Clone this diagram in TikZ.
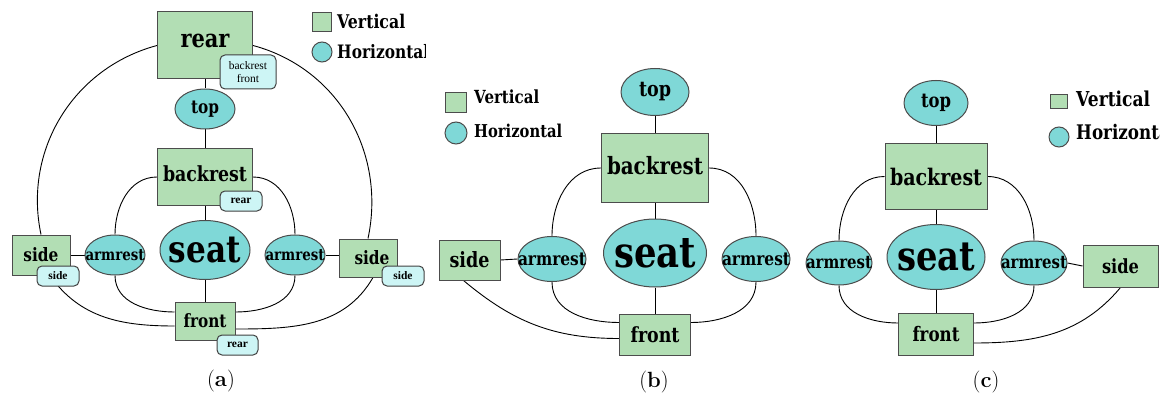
\documentclass[tikz,border=0pt]{standalone}
\usepackage{fontspec}
\usepackage{graphicx}
\usepackage{tikz}
\usetikzlibrary{positioning, shapes.geometric, backgrounds}
\newfontfamily\partfont{DejaVu Serif}
\newfontfamily\tagfont{Liberation Serif}
\definecolor{vgreen}{RGB}{178,222,180}
\definecolor{hcyan}{RGB}{127,216,215}
\definecolor{tagcyan}{RGB}{205,245,245}
\newcommand{\fs}[1]{\fontsize{#1}{#1}\selectfont}
\newcommand{\ctr}[1]{\makebox[0pt]{#1}}
\newcommand{\fitw}[2]{\resizebox{#1pt}{!}{\scalebox{1}[1.2]{#2}}}
\tikzset{
  vert/.style={rectangle, draw=black!70, fill=vgreen, line width=1pt, inner sep=0pt, font=\partfont\bfseries},
  horiz/.style={ellipse, draw=black!70, fill=hcyan, line width=1pt, inner sep=0pt, font=\partfont\bfseries},
  tagbox/.style={rectangle, rounded corners=5pt, draw=black!75, fill=tagcyan, line width=1pt, inner sep=0pt, font=\tagfont\fontsize{11.5}{13}\selectfont, align=center},
  tagbold/.style={tagbox, font=\tagfont\fs{11.5}\bfseries},
  link/.style={line width=0.9pt},
  legtext/.style={font=\partfont\bfseries, inner sep=0pt, anchor=west},
  caption/.style={font=\fs{22}},
}

\begin{document}
\begin{tikzpicture}[x=1pt, y=-1pt]
\useasboundingbox (0,0) rectangle (1166,398);

% (a)
\node[vert, minimum width=95, minimum height=67, text depth=10pt] (rearA) at (205,45.5) {\fitw{49}{rear}};
\node[tagbox, minimum width=56, minimum height=34] (tagRearA) at (248,72) {backrest\\front};
\node[horiz, minimum width=60, minimum height=40] (topA) at (205,109) {\ctr{\fitw{28}{top}}};
\node[vert, minimum width=95, minimum height=56, text depth=6pt] (backA) at (205,177) {\fitw{84}{backrest}};
\node[tagbold, minimum width=42, minimum height=20] (tagBackA) at (241,201) {rear};
\node[horiz, minimum width=90, minimum height=59] (seatA) at (205,250) {\ctr{\fitw{72}{seat}}};
\node[horiz, minimum width=60, minimum height=40] (armLA) at (115,255) {\ctr{\fitw{59}{armrest}}};
\node[horiz, minimum width=60, minimum height=40] (armRA) at (295,255) {\ctr{\fitw{59}{armrest}}};
\node[vert, minimum width=58, minimum height=40] (sideLA) at (41,255) {\fitw{35}{side}\hspace{8pt}};
\node[tagbold, minimum width=42, minimum height=20] (tagSideLA) at (58,276) {side};
\node[vert, minimum width=58, minimum height=38] (sideRA) at (368,258) {\hspace{8pt}\fitw{35}{side}};
\node[tagbold, minimum width=42, minimum height=20] (tagSideRA) at (403,276) {side};
\node[vert, minimum width=60, minimum height=38] (frontA) at (205,321) {\fitw{43}{front}};
\node[tagbold, minimum width=41, minimum height=20] (tagFrontA) at (237.5,345) {rear};
\node[vert, minimum width=19, minimum height=19] (legVA) at (321.5,22.5) {};
\node[legtext] (legVtxtA) at (337,21) {\fitw{68}{Vertical}};
\node[horiz, minimum width=20, minimum height=20] (legHA) at (322,52) {};
\begin{scope}
\clip (330,35) rectangle (425,70);
\node[legtext] (legHtxtA) at (337,52) {\fitw{92}{Horizontal}};
\end{scope}
\node[caption] (capA) at (221,381) {(\textbf{a})};

% (b)
\node[horiz, minimum width=68, minimum height=47] (topB) at (655,92) {\ctr{\fitw{32}{top}}};
\node[vert, minimum width=107, minimum height=68, text depth=5pt] (backB) at (655,168) {\fitw{96}{backrest}};
\node[horiz, minimum width=103, minimum height=68] (seatB) at (655,253) {\ctr{\fitw{82}{seat}}};
\node[horiz, minimum width=68, minimum height=45] (armLB) at (552,259) {\ctr{\fitw{68}{armrest}}};
\node[horiz, minimum width=68, minimum height=45] (armRB) at (756,259) {\ctr{\fitw{68}{armrest}}};
\node[vert, minimum width=61, minimum height=40] (sideB) at (469.5,260) {\fitw{40}{side}\hspace{14pt}};
\node[vert, minimum width=71, minimum height=41] (frontB) at (655,334.5) {\fitw{49}{front}};
\node[vert, minimum width=21, minimum height=20] (legVB) at (455.5,103) {};
\node[legtext] (legVtxtB) at (474,97) {\fitw{65}{Vertical}};
\node[horiz, minimum width=22, minimum height=22] (legHB) at (456,133) {};
\node[legtext] (legHtxtB) at (474,131) {\fitw{88}{Horizontal}};
\node[caption] (capB) at (654,382) {(\textbf{b})};

% (c)
\node[horiz, minimum width=64, minimum height=45] (topC) at (936,103) {\ctr{\fitw{30}{top}}};
\node[vert, minimum width=102, minimum height=65] (backC) at (936,176.5) {\fitw{92}{backrest}};
\node[horiz, minimum width=98, minimum height=65] (seatC) at (936,257) {\ctr{\fitw{78}{seat}}};
\node[horiz, minimum width=66, minimum height=44] (armLC) at (839,263) {\ctr{\fitw{66}{armrest}}};
\node[horiz, minimum width=66, minimum height=44] (armRC) at (1034,263) {\ctr{\fitw{66}{armrest}}};
\node[vert, minimum width=75, minimum height=42] (sideC) at (1120.5,266) {\fitw{37}{side}};
\node[vert, minimum width=75, minimum height=42] (frontC) at (936,334) {\fitw{47}{front}};
\node[vert, minimum width=17, minimum height=14] (legVC) at (1058.5,101.5) {};
\node[legtext] (legVtxtC) at (1076,99) {\fitw{74}{Vertical}};
\node[horiz, minimum width=20, minimum height=20] (legHC) at (1059,137) {};
\begin{scope}
\clip (1070,115) rectangle (1159,150);
\node[legtext] (legHtxtC) at (1076,132) {\fitw{100}{Horizontal}};
\end{scope}
\node[caption] (capC) at (986,382) {(\textbf{c})};

\begin{scope}[on background layer]
\draw[link] (rearA.south) -- (topA.north);
\draw[link] (topA.south) -- (backA.north);
\draw[link] (backA.south) -- (seatA.north);
\draw[link] (seatA.south) -- (frontA.north);
\draw[link] (sideLA.east) -- (armLA.west);
\draw[link] (armRA.east) -- (armRA.east -| sideRA.west);
\draw[link] (rearA.west) to[out=195, in=102] (sideLA.north);
\draw[link] (rearA.east) to[out=-15, in=78] (sideRA.north);
\draw[link] ([xshift=9]sideLA.south) to[out=-55, in=180] ([yshift=-5]frontA.west);
\draw[link] ([xshift=5]sideRA.south) to[out=-120, in=0] ([yshift=-8]frontA.east);
\draw[link] (backA.west) to[out=180, in=90] (armLA.north);
\draw[link] (backA.east) to[out=0, in=90] (armRA.north);
\draw[link] (armLA.south) to[out=-90, in=180] ([yshift=9]frontA.west);
\draw[link] (armRA.south) to[out=-90, in=0] ([yshift=9]frontA.east);

\draw[link] (topB.south) -- (backB.north);
\draw[link] (backB.south) -- (seatB.north);
\draw[link] (seatB.south) -- (frontB.north);
\draw[link] (sideB.east) -- (armLB.west);
\draw[link] (backB.west) to[out=180, in=90] (armLB.north);
\draw[link] (backB.east) to[out=0, in=90] (armRB.north);
\draw[link] (armLB.south) to[out=-90, in=180] ([yshift=12]frontB.west);
\draw[link] (armRB.south) to[out=-90, in=0] ([yshift=12]frontB.east);
\draw[link] ([xshift=-6]sideB.south) to[out=-40, in=180] ([yshift=-4]frontB.west);

\draw[link] (topC.south) -- (backC.north);
\draw[link] (backC.south) -- (seatC.north);
\draw[link] (seatC.south) -- (frontC.north);
\draw[link] (armRC.east) -- (sideC.west);
\draw[link] (backC.west) to[out=180, in=90] (armLC.north);
\draw[link] (backC.east) to[out=0, in=90] (armRC.north);
\draw[link] (armLC.south) to[out=-90, in=180] ([yshift=11]frontC.west);
\draw[link] (armRC.south) to[out=-90, in=0] ([yshift=11]frontC.east);
\draw[link] (sideC.south) to[out=-130, in=0] ([yshift=-9]frontC.east);
\end{scope}
\end{tikzpicture}
\end{document}
